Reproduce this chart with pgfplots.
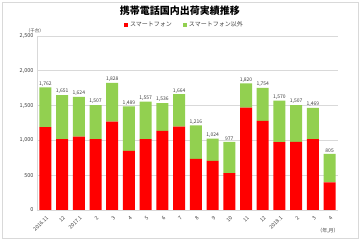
\documentclass[border=0pt]{standalone}
\usepackage{fontspec}
\setmainfont{Noto Sans CJK JP}
\usepackage{pgfplots}
\pgfplotsset{compat=1.18}
\usepackage{pgfplotstable}
\definecolor{sred}{HTML}{FF0000}
\definecolor{sgreen}{HTML}{92D050}
\definecolor{gridc}{HTML}{D9D9D9}
\definecolor{txt}{HTML}{404040}
\pgfplotstableread{
x red other total
0 1190 572 1762
1 1017 634 1651
2 1055 569 1624
3 1017 490 1507
4 1271 557 1828
5 849 640 1489
6 1017 540 1557
7 1137 399 1536
8 1199 465 1664
9 734 482 1216
10 705 319 1024
11 528 449 977
12 1472 348 1820
13 1281 473 1754
14 974 596 1570
15 978 529 1507
16 1017 452 1469
17 398 407 805
}\datatable
\begin{document}
\begin{tikzpicture}
\fill[white] (0pt,0pt) rectangle (360pt,240pt);
\draw[gridc,line width=0.5pt] (2pt,2pt) rectangle (358pt,238pt);
\node[font=\fontsize{10}{12}\selectfont\bfseries] at (180pt,229pt) {携帯電話国内出荷実績推移};
\node[font=\fontsize{4.5}{5}\selectfont,text=txt] at (35pt,209pt) {（千台）};
\node[font=\fontsize{5}{6}\selectfont,text=txt] at (328pt,9pt) {（年,月）};
\begin{axis}[
  at={(37pt,30pt)}, anchor=south west,
  scale only axis, width=301pt, height=174pt,
  ybar stacked, bar width=12pt,
  xmin=-0.5, xmax=17.5, ymin=0, ymax=2500,
  ytick={0,500,1000,1500,2000,2500},
  xtick={0,...,17},
  xticklabels={2016.11,12,2017.1,2,3,4,5,6,7,8,9,10,11,12,2018.1,2,3,4},
  x tick label style={rotate=45, anchor=north east, font=\fontsize{5.2}{6}\selectfont, text=txt, yshift=-1pt},
  y tick label style={font=\fontsize{5.5}{6}\selectfont, text=txt},
  /pgf/number format/assume math mode=true,
  /pgf/number format/1000 sep={,},
  ymajorgrids, grid style={gridc, line width=0.6pt},
  axis x line*=bottom, axis y line*=left,
  axis line style={gridc, line width=0.6pt},
  major tick length=0pt,
  legend columns=2,
  legend style={at={(0.49,1.063)}, anchor=center, draw=none, fill=none,
    font=\fontsize{6}{7}\selectfont, text=txt,
    /tikz/every even column/.append style={column sep=9pt}},
  legend image code/.code={\fill[#1] (0pt,-2pt) rectangle (4pt,2pt);},
]
\addplot[fill=sred, draw=none] table[x=x, y=red] {\datatable};
\addlegendentry{スマートフォン}
\addplot[fill=sgreen, draw=none] table[x=x, y=other] {\datatable};
\addlegendentry{スマートフォン以外}
\end{axis}
\begin{axis}[
  at={(37pt,30pt)}, anchor=south west,
  scale only axis, width=301pt, height=174pt,
  xmin=-0.5, xmax=17.5, ymin=0, ymax=2500,
  hide axis, clip=false,
]
\addplot[draw=none, mark=none,
  nodes near coords, point meta=explicit,
  every node near coord/.append style={font=\fontsize{5}{6}\selectfont, text=txt, anchor=south, inner sep=1pt, /pgf/number format/1000 sep={,}, /pgf/number format/assume math mode=true}
  ] table[x=x, y=total, meta=total] {\datatable};
\end{axis}
\end{tikzpicture}
\end{document}
